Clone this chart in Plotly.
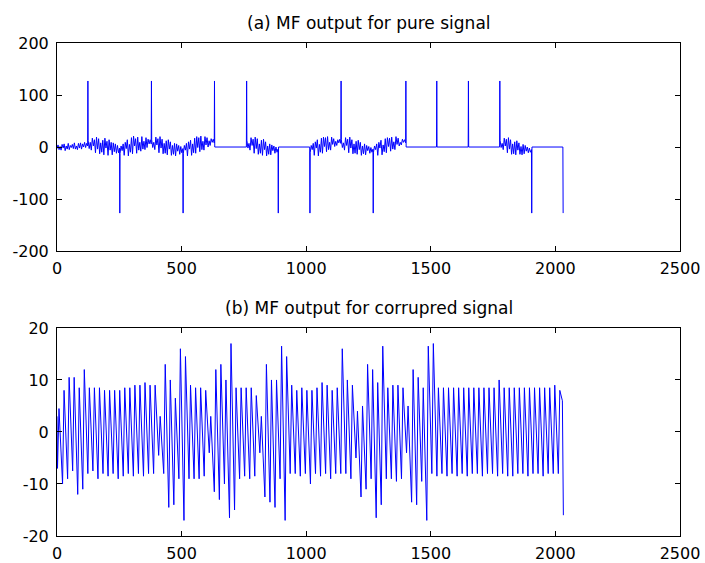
import numpy as np
import plotly.graph_objects as go

# ---------------- data: (a) MF output for pure signal ----------------
spike_x = [124, 252, 379, 506, 632, 761, 888, 1015, 1140, 1269, 1400, 1524, 1651, 1777, 1905, 2031]
spike_y = [127, -127, 127, -127, 127, 127, -127, -127, 127, -127, 127, 127, 127, 127, -127, -127]

# values of the signal between consecutive spikes (flat parts are [0, 0])
seg_0 = [-3, 4, -5, 1, -6, 5, -2, 6, -7, 2, -4, 7, -5, 3, -1, 5, -3, 8, -4, 2, -5, 7, -2, 8, -4, 6, 0, 9, -1, 7, 2]
seg_1 = [12, -3, 9, -6, 17, 2, 14, -11, 19, -4, 16, -13, 8, -10, 13, -15, 17, -2, 11, -16, 14, -6, 9, -15, 8, -9, 6, -12, 3, -11, -2]
seg_2 = [-12, 2, -7, 6, -16, 9, -3, 14, -17, 5, -10, 18, -13, 21, 2, 16, -12, 19, -6, 9, -8, 20, -4, 11, -5, 18, -1, 15, 6, 14, 6]
seg_3 = [14, -1, 9, -5, 19, 4, 16, -11, 20, -2, 15, -13, 7, -12, 12, -15, 14, -4, 10, -16, 3, -14, 7, -17, 6, -8, 3, -14, 1, -11, -3]
seg_4 = [-12, 3, -6, 7, -17, 10, -4, 13, -16, 6, -11, 17, -12, 20, -1, 18, -9, 21, -5, 11, -6, 20, 4, 18, 0, 12, 3, 16, 9, 15, 8]
seg_5 = [0, 0]
seg_6 = [13, -2, 7, -6, 18, 3, 15, -12, 19, -3, 16, -14, 6, -12, 13, -16, 15, -5, 10, -17, 2, -14, 6, -15, 4, -7, 2, -12, 0, -10, -4]
seg_7 = [0, 0]
seg_8 = [-11, 3, -5, 7, -16, 10, -2, 14, -17, 5, -10, 17, -12, 19, 1, 18, -9, 20, -5, 9, -6, 19, 5, 16, 1, 11, 3, 14, 8, 15, 7]
seg_9 = [14, -1, 8, -6, 18, 3, 15, -11, 19, -2, 14, -13, 6, -12, 11, -14, 13, -5, 9, -16, 2, -13, 6, -15, 3, -7, 1, -12, -1, -10, -4]
seg_10 = [-10, 2, -5, 6, -16, 9, -2, 13, -15, 4, -9, 16, -11, 18, 1, 17, -8, 19, -4, 10, -5, 20, 5, 17, 2, 9, 4, 15, 9, 14, 8]
seg_11 = [0, 0]
seg_12 = [0, 0]
seg_13 = [0, 0]
seg_14 = [13, -1, 7, -5, 17, 2, 15, -11, 18, -4, 14, -14, 6, -13, 10, -15, 12, -6, 8, -14, 1, -15, 5, -13, 3, -8, 0, -11, -2, -10, -5]
seg_15 = [0, 0]
segments = [seg_0, seg_1, seg_2, seg_3, seg_4, seg_5, seg_6, seg_7,
            seg_8, seg_9, seg_10, seg_11, seg_12, seg_13, seg_14, seg_15]

# ---------------- data: (b) MF output for corrupted signal ----------------
bot_period = 20.3          # samples per oscillation cycle
bot_start_y = 3
bot_peaks = [4.5, 8, 10.5, 10.5, 8.5, 12, 8.5, 8.5, 8.5, 8, 8, 8, 8, 8.5, 8.5, 9, 9, 9.5, 9, 9,
             3, 13, 10, 6.5, 16, 14.5, 9, 8.5, 8.5, 8,
             3, 12, 13, 10, 17, 8.5, 8.5, 8.5, 8.5, 7,
             3, 13, 10, 10, 16.5, 14.5, 9, 8, 8.5, 8,
             8, 8.5, 9.5, 9, 8, 8.5, 16, 10, 9, 4,
             5, 13, 12, 9.5, 16.5, 8.5, 9, 9, 8.5, 5,
             12, 10.5, 8.5, 16.5, 17, 8.5, 8.5, 8.5, 8.5, 8.5,
             8.5, 8.5, 8.5, 8.5, 8.5, 8.5, 8.5, 10, 8.5, 8.5,
             8.5, 8.5, 8.5, 8.5, 8.5, 8.5, 8.5, 8.5, 9, 8]
bot_troughs = [-7, -10, -9, -7.5, -12, -11, -8, -7.5, -9, -8, -8.5, -8, -9, -8.5, -8, -8.5, -8, -8.5, -8, -8,
               -4.5, -8, -14.5, -14, -9, -17, -9, -9, -9, -8.5,
               -4, -11.5, -13, -10, -16.5, -15, -9, -8.5, -9, -8.5,
               -4, -12.5, -13.5, -14.5, -9, -17, -8, -8, -8.5, -8,
               -10, -8, -8.5, -8, -9, -8, -8, -8, -9, -5,
               -12.5, -11, -9, -16.5, -14, -9, -9, -9.5, -9, -4,
               -13.5, -14, -9.5, -17, -8, -8.5, -8, -8.5, -8, -8.5,
               -8, -8.5, -8, -8, -8.5, -8, -8, -8.5, -8, -8.5,
               -8.5, -8, -8, -8.5, -8, -8, -8.5, -8, -8, -8]
bot_tail_x = [2028, 2032]
bot_tail_y = [6, -16]

# ---------------- axis tick labels ----------------
x_tickvals = [0, 500, 1000, 1500, 2000, 2500]
x_ticktext = ["0", "500", "1000", "1500", "2000", "2500"]
ya_tickvals = [-200, -100, 0, 100, 200]
ya_ticktext = ["-200", "-100", "0", "100", "200"]
yb_tickvals = [-20, -10, 0, 10, 20]
yb_ticktext = ["-20", "-10", "0", "10", "20"]
title_a = "(a) MF output for pure signal"
title_b = "(b) MF output for corrupred signal"

# ---------------- build traces ----------------
top_x, top_y = [], []
for i, (sx, sy) in enumerate(zip(spike_x, spike_y)):
    start = 0 if i == 0 else spike_x[i - 1] + 1
    end = sx - 1
    vals = segments[i]
    pos = np.linspace(start, end, len(vals))
    top_x.extend(pos.tolist())
    top_y.extend(vals)
    top_x.append(sx)
    top_y.append(sy)

bot_x, bot_y = [0], [bot_start_y]
for k, (pk, tr) in enumerate(zip(bot_peaks, bot_troughs)):
    bot_x.append(k * bot_period + 2)
    bot_y.append(tr)
    bot_x.append(k * bot_period + 8)
    bot_y.append(pk)
bot_x.extend(bot_tail_x)
bot_y.extend(bot_tail_y)

BLUE = "#0000ff"
FONT = "DejaVu Sans, Arial, sans-serif"

fig = go.Figure()
fig.add_trace(go.Scatter(x=top_x, y=top_y, mode="lines",
                         line=dict(color=BLUE, width=1), xaxis="x", yaxis="y",
                         showlegend=False, hoverinfo="skip"))
fig.add_trace(go.Scatter(x=bot_x, y=bot_y, mode="lines",
                         line=dict(color=BLUE, width=1), xaxis="x2", yaxis="y2",
                         showlegend=False, hoverinfo="skip"))

axis_common = dict(showline=True, linecolor="black", linewidth=1, mirror="ticks",
                   ticks="inside", ticklen=5, tickcolor="black", tickwidth=1,
                   showgrid=False, zeroline=False, automargin=False,
                   tickfont=dict(family=FONT, size=16, color="black"))

fig.update_layout(
    width=705, height=563,
    margin=dict(l=57, r=25, t=43, b=27),
    paper_bgcolor="white", plot_bgcolor="white",
    xaxis=dict(domain=[0, 1], anchor="y", range=[0, 2500],
               tickvals=x_tickvals, ticktext=x_ticktext, ticklabelstandoff=3, **axis_common),
    yaxis=dict(domain=[0.578, 1], anchor="x", range=[-200, 200],
               tickvals=ya_tickvals, ticktext=ya_ticktext, ticklabelstandoff=4, **axis_common),
    xaxis2=dict(domain=[0, 1], anchor="y2", range=[0, 2500],
                tickvals=x_tickvals, ticktext=x_ticktext, ticklabelstandoff=3, **axis_common),
    yaxis2=dict(domain=[0, 0.422], anchor="x2", range=[-20, 20],
                tickvals=yb_tickvals, ticktext=yb_ticktext, ticklabelstandoff=4, **axis_common),
    annotations=[
        dict(text=title_a, xref="paper", yref="paper", x=0.5, y=1.0,
             xanchor="center", yanchor="bottom", yshift=8, showarrow=False,
             font=dict(family=FONT, size=17, color="black")),
        dict(text=title_b, xref="paper", yref="paper", x=0.5, y=0.422,
             xanchor="center", yanchor="bottom", yshift=8, showarrow=False,
             font=dict(family=FONT, size=17, color="black")),
    ],
)

# remove the default page margin so the figure sits at the window origin
fig.write_html("out.html",
               config={"displayModeBar": False},
               post_script="document.body.style.margin='0';document.body.style.overflow='hidden';")
